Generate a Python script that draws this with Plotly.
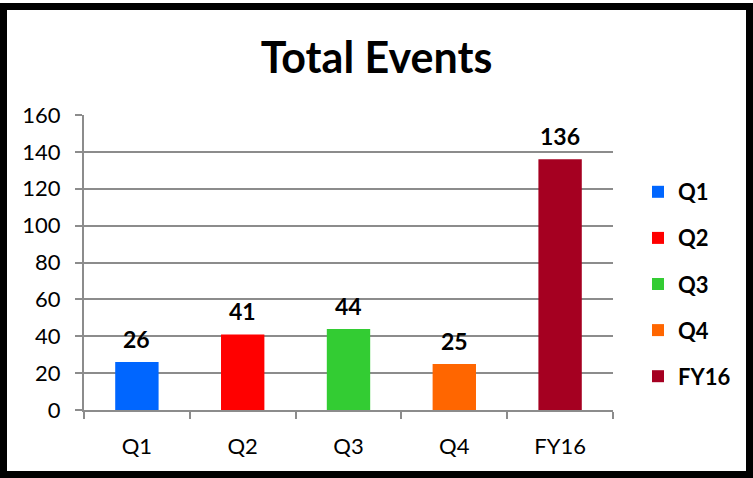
import plotly.graph_objects as go

categories = ["Q1", "Q2", "Q3", "Q4", "FY16"]
values = [26, 41, 44, 25, 136]
colors = ["#0066FF", "#FF0000", "#33CC33", "#FF6600", "#A50021"]
y_ticks = [0, 20, 40, 60, 80, 100, 120, 140, 160]

W, H = 753, 478
L, R, T, B = 84, 140, 115, 68
pw, ph = W - L - R, H - T - B

def px_x(p):
    return (p - L) / pw

def px_y(p):
    return (H - B - p) / ph

FONT = "Lato, Open Sans, sans-serif"

fig = go.Figure()
for cat, val, col in zip(categories, values, colors):
    fig.add_trace(go.Bar(
        x=[cat], y=[val], name=f"<b>{cat}</b>", marker=dict(color=col, line=dict(width=0)),
        width=0.41, legendgroup=cat, showlegend=True,
    ))
    fig.add_annotation(x=cat, y=val, text=f"<b>{val}</b>", showarrow=False,
                       yshift=23, font=dict(size=23, color="#000000", family=FONT))

fig.update_layout(
    width=W, height=H,
    margin=dict(l=L, r=R, t=T, b=B),
    paper_bgcolor="white", plot_bgcolor="white",
    barmode="overlay",
    title=dict(text="<b>Total Events</b>", x=0.5, xanchor="center", xref="container",
               y=1 - 58 / H, yanchor="middle", yref="container",
               font=dict(size=43, color="#000000", family=FONT)),
    legend=dict(x=px_x(638), xanchor="left", y=px_y(171), yanchor="top",
                traceorder="grouped", tracegroupgap=14.5,
                font=dict(size=22, color="#000000", family=FONT),
                bgcolor="rgba(0,0,0,0)"),
    font=dict(family=FONT, color="#000000"),
    showlegend=True,
)
fig.update_xaxes(
    type="category", categoryorder="array", categoryarray=categories,
    showline=True, linecolor="#8C8C8C", linewidth=2,
    ticks="outside", tickson="boundaries", ticklen=7, tickcolor="#8C8C8C", tickwidth=2,
    tickfont=dict(size=22, color="#000000", family=FONT), showgrid=False,
    ticklabelstandoff=16,
)
fig.update_yaxes(
    range=[0, 160], tickvals=y_ticks, showline=True, linecolor="#8C8C8C", linewidth=2,
    ticks="outside", ticklen=7, tickcolor="#8C8C8C", tickwidth=2,
    showgrid=True, gridcolor="#8C8C8C", gridwidth=2, zeroline=False,
    tickfont=dict(size=22, color="#000000", family=FONT),
    ticklabelstandoff=10,
)
# black frame around the chart
fig.add_shape(type="rect", xref="paper", yref="paper",
              x0=px_x(3.5), x1=px_x(749.5), y0=px_y(474.5), y1=px_y(6.5),
              line=dict(color="#000000", width=7), fillcolor="rgba(0,0,0,0)", layer="above")

fig.write_html("out.html", config={"displayModeBar": False},
               post_script="document.body.style.margin='0';")
